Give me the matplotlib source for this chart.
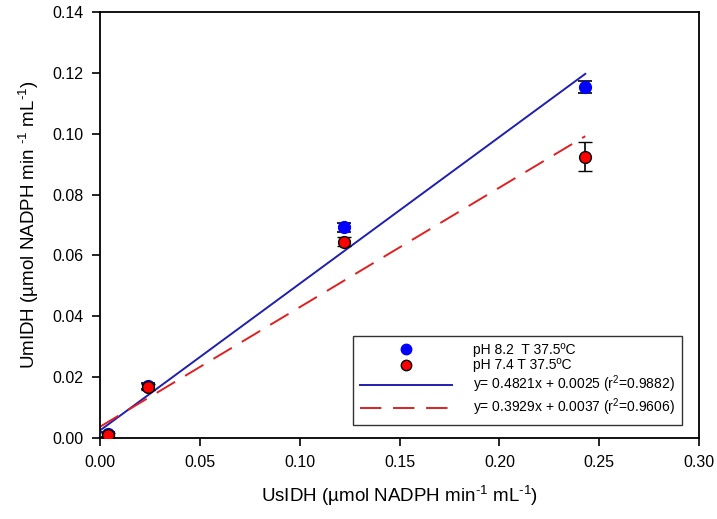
import matplotlib
matplotlib.use("Agg")
import matplotlib.pyplot as plt
from matplotlib.lines import Line2D
import numpy as np

plt.rcParams['font.family'] = ['Liberation Sans', 'DejaVu Sans']
plt.rcParams['mathtext.default'] = 'regular'

# data
x_vals = [0.004, 0.024, 0.122, 0.243]
blue_y = [0.0012, 0.0170, 0.0692, 0.1153]
blue_err = [0.0008, 0.0010, 0.0015, 0.0020]
red_y = [0.0010, 0.0167, 0.0645, 0.0925]
red_err = [0.0008, 0.0010, 0.0015, 0.0048]
blue_fit = (0.4821, 0.0025)
red_fit = (0.3929, 0.0037)
fit_range = [0.0, 0.243]
labels = ["pH 8.2  T 37.5ºC", "pH 7.4 T 37.5ºC",
          "y= 0.4821x + 0.0025 (r$^2$=0.9882)",
          "y= 0.3929x + 0.0037 (r$^2$=0.9606)"]

fig = plt.figure(figsize=(7.17, 5.19), dpi=100)
ax = fig.add_axes([0.1395, 0.156, 0.8355, 0.821])

dash = (11, 6)
xf = np.array(fit_range)
ax.plot(xf, blue_fit[0] * xf + blue_fit[1], color='#1f1fb0', lw=1.4, zorder=2)
ax.plot(xf, red_fit[0] * xf + red_fit[1], color='#e02020', lw=1.4,
        dashes=dash, zorder=2)

ax.errorbar(x_vals, blue_y, yerr=blue_err, fmt='o', color='blue', ms=8.5,
            mec='blue', ecolor='black', elinewidth=1.2, capsize=5,
            capthick=1.2, zorder=3)
ax.errorbar(x_vals, red_y, yerr=red_err, fmt='o', color='red', ms=8.5,
            mec='black', mew=1.0, ecolor='black', elinewidth=1.2, capsize=5,
            capthick=1.2, zorder=4)

ax.set_xlim(0, 0.30)
ax.set_ylim(0, 0.14)
ax.set_xticks(np.arange(0, 0.301, 0.05))
ax.set_yticks(np.arange(0, 0.141, 0.02))
ax.xaxis.set_major_formatter(matplotlib.ticker.FormatStrFormatter('%.2f'))
ax.yaxis.set_major_formatter(matplotlib.ticker.FormatStrFormatter('%.2f'))
ax.tick_params(direction='out', length=6, width=1.2, labelsize=11.5,
               colors='black', pad=6)
for s in ax.spines.values():
    s.set_linewidth(1.3)

ax.set_xlabel("UsIDH (µmol NADPH min$^{‐1}$ mL$^{‐1}$)", fontsize=13.5,
              labelpad=10)
ax.set_ylabel("UmIDH (µmol NADPH min $^{‐1}$ mL$^{‐1}$)", fontsize=13.5,
              labelpad=8)

handles = [
    Line2D([], [], ls='none', marker='o', color='blue', mec='blue', ms=7.5),
    Line2D([], [], ls='none', marker='o', color='red', mec='black', ms=7.5),
    Line2D([], [], color='#1f1fb0', lw=1.4),
    Line2D([], [], color='#e02020', lw=1.4, dashes=dash),
]
leg = ax.legend(handles, labels, loc='lower right',
                bbox_to_anchor=(0.978, 0.02), fontsize=10, frameon=True,
                fancybox=False, edgecolor='black', handlelength=6.6,
                labelspacing=0.1, borderpad=0.5, handletextpad=1.5,
                borderaxespad=0.3)
leg.get_frame().set_linewidth(1.0)

fig.savefig("out.png", dpi=100)
